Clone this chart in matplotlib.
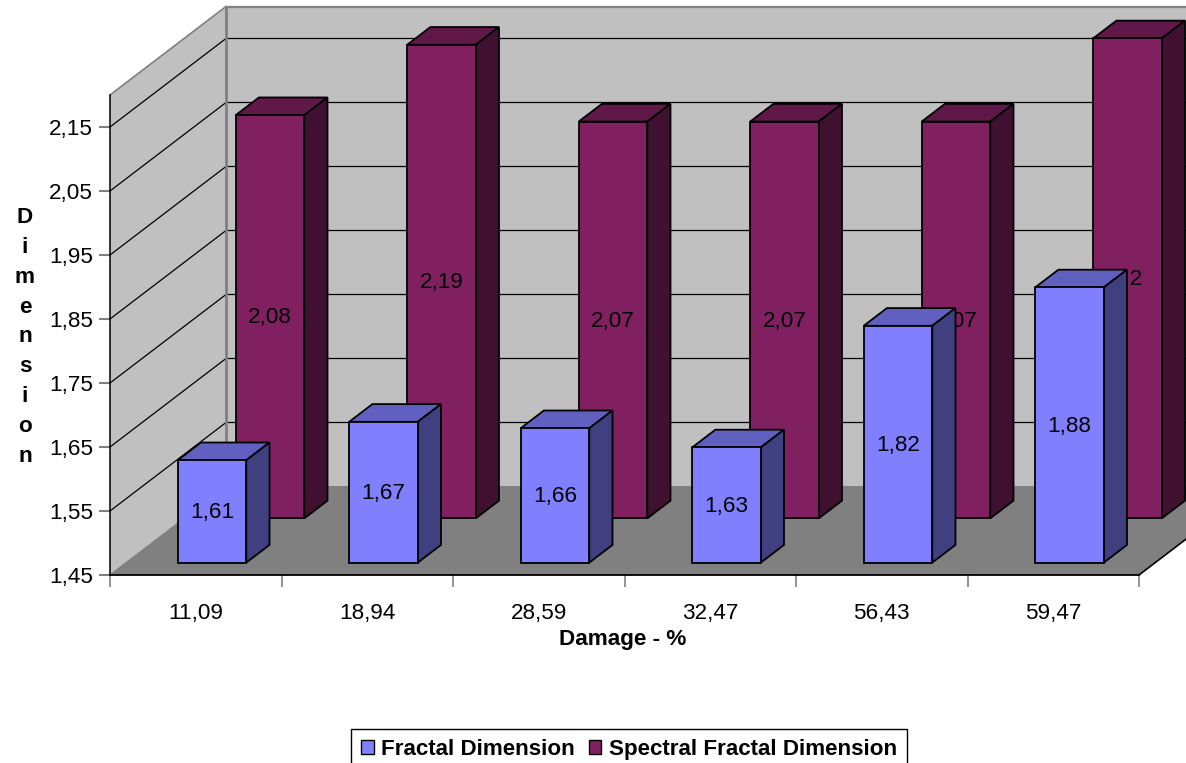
import numpy as np
import matplotlib
matplotlib.use('Agg')
import matplotlib.pyplot as plt
from matplotlib.patches import Polygon, Patch

plt.rcParams['font.family'] = ['Liberation Sans', 'DejaVu Sans']

damage = ['11,09', '18,94', '28,59', '32,47', '56,43', '59,47']
fractal = [1.61, 1.67, 1.66, 1.63, 1.82, 1.88]
spectral = [2.08, 2.19, 2.07, 2.07, 2.07, 2.20]
y_ticks = [1.45, 1.55, 1.65, 1.75, 1.85, 1.95, 2.05, 2.15]

# 坐标范围和斜投影
V0, V1 = 1.45, 2.20
W, H = 1186, 763
px_x = 1029 / 6
px_y = 640
DX = 116 / px_x
DY = 88.5 / px_y
FS = 16.2

fig = plt.figure(figsize=(W / 100, H / 100), dpi=100)
ax = fig.add_axes([0, 0, 1, 1])
ax.set_xlim(-110 / px_x, (W - 110) / px_x)
ax.set_ylim(V0 - (H - 575) / px_y, V0 + 575 / px_y)


def proj(x, v, d):
    return (x + d * DX, v + d * DY)


def face(pts, color, z, edge='none', lw=0):
    ax.add_patch(Polygon(pts, closed=True, facecolor=color, edgecolor=edge,
                         linewidth=lw, joinstyle='miter', zorder=z))


n = len(damage)
wall = '#C0C0C0'
floor = '#808080'

# 墙和地面
face([proj(0, V0, 0), proj(0, V1, 0), proj(0, V1, 1), proj(0, V0, 1)], wall, 1)
face([proj(0, V0, 1), proj(0, V1, 1), proj(n, V1, 1), proj(n, V0, 1)], wall, 1)
face([proj(0, V0, 0), proj(n, V0, 0), proj(n, V0, 1), proj(0, V0, 1)], floor, 1)

for v in y_ticks[1:]:
    a, b, c = proj(0, v, 0), proj(0, v, 1), proj(n, v, 1)
    ax.plot([a[0], b[0], c[0]], [a[1], b[1], c[1]], color='black', lw=0.9, zorder=2)

# 灰色边线
for p, q, lw in [(proj(0, V1, 0), proj(0, V1, 1), 1.2),
                 (proj(0, V1, 1), proj(n, V1, 1), 1.6),
                 (proj(0, V0, 1), proj(0, V1, 1), 2.0),
                 (proj(0, V0, 0), proj(0, V0, 1), 1.0),
                 (proj(0, V0, 1), proj(n, V0, 1), 1.4)]:
    ax.plot([p[0], q[0]], [p[1], q[1]], color='#808080', lw=lw, zorder=2)
p, q = proj(n, V0, 0), proj(n, V0, 1)
ax.plot([p[0], q[0]], [p[1], q[1]], color='black', lw=1.2, zorder=2)


def bar3d(i, value, depth, colors, z):
    half, thick = 0.2, 0.2
    x0, x1 = i + 0.5 - half, i + 0.5 + half
    d0, d1 = depth, depth + thick
    base = V0
    face([proj(x0, value, d0), proj(x1, value, d0), proj(x1, value, d1), proj(x0, value, d1)],
         colors[1], z, 'black', 1.3)
    face([proj(x1, base, d0), proj(x1, value, d0), proj(x1, value, d1), proj(x1, base, d1)],
         colors[2], z, 'black', 1.3)
    face([proj(x0, base, d0), proj(x1, base, d0), proj(x1, value, d0), proj(x0, value, d0)],
         colors[0], z, 'black', 1.3)
    cx, cy = proj(i + 0.5, (base + value) / 2, d0)
    ax.annotate(f'{value:g}'.replace('.', ','), (cx, cy), xytext=(0, 1), textcoords='offset points',
                ha='center', va='center_baseline', fontsize=FS, color='black', zorder=z + 0.5)


blue = ['#8080FF', '#6060C0', '#404080']
purple = ['#802060', '#601848', '#401030']

for i in range(n):
    bar3d(i, spectral[i], 0.64, purple, 3)
for i in range(n):
    bar3d(i, fractal[i], 0.14, blue, 5)

# 坐标轴
for s in ['top', 'right']:
    ax.spines[s].set_visible(False)
ax.spines['left'].set_position(('data', 0))
ax.spines['left'].set_bounds(V0, V1)
ax.spines['bottom'].set_position(('data', V0))
ax.spines['bottom'].set_bounds(0, n)
ax.spines['left'].set_zorder(6)
ax.spines['bottom'].set_zorder(6)
ax.spines['left'].set_linewidth(1.1)
ax.spines['bottom'].set_linewidth(1.3)

ax.set_yticks(y_ticks)
ax.set_yticklabels([f'{v:.2f}'.replace('.', ',') for v in y_ticks], fontsize=FS)
ax.set_xticks(range(n + 1))
ax.set_xticklabels([])
ax.set_xticks(np.arange(n) + 0.5, minor=True)
ax.set_xticklabels(damage, minor=True, fontsize=FS)
ax.tick_params(axis='y', which='major', length=8, width=1.5, color='#808080', pad=4)
ax.tick_params(axis='x', which='major', length=8.5, width=1.2, color='#808080')
ax.tick_params(axis='x', which='minor', length=0, pad=20)

ax.text(623 / W, 1 - 640 / H, 'Damage - %', transform=ax.transAxes, ha='center',
        va='center', fontsize=FS, fontweight='bold')
ax.text(25 / W, 1 - 337 / H, '\n'.join('Dimension'), transform=ax.transAxes, ha='center',
        va='center', fontsize=FS, fontweight='bold', linespacing=1.55)

handles = [Patch(facecolor=blue[0], edgecolor='black', label='Fractal Dimension'),
           Patch(facecolor=purple[0], edgecolor='black', label='Spectral Fractal Dimension')]
leg = ax.legend(handles=handles, ncol=2, loc='center', bbox_to_anchor=(629 / W, 1 - 749.5 / H),
                fancybox=False, framealpha=1, edgecolor='black', handlelength=0.55,
                handleheight=0.55, handletextpad=0.35, columnspacing=0.6, borderpad=0.45,
                borderaxespad=0, prop={'size': 16.1, 'weight': 'bold'})
leg.get_frame().set_linewidth(1.0)
leg.set_zorder(10)

fig.savefig('out.png', dpi=100)
